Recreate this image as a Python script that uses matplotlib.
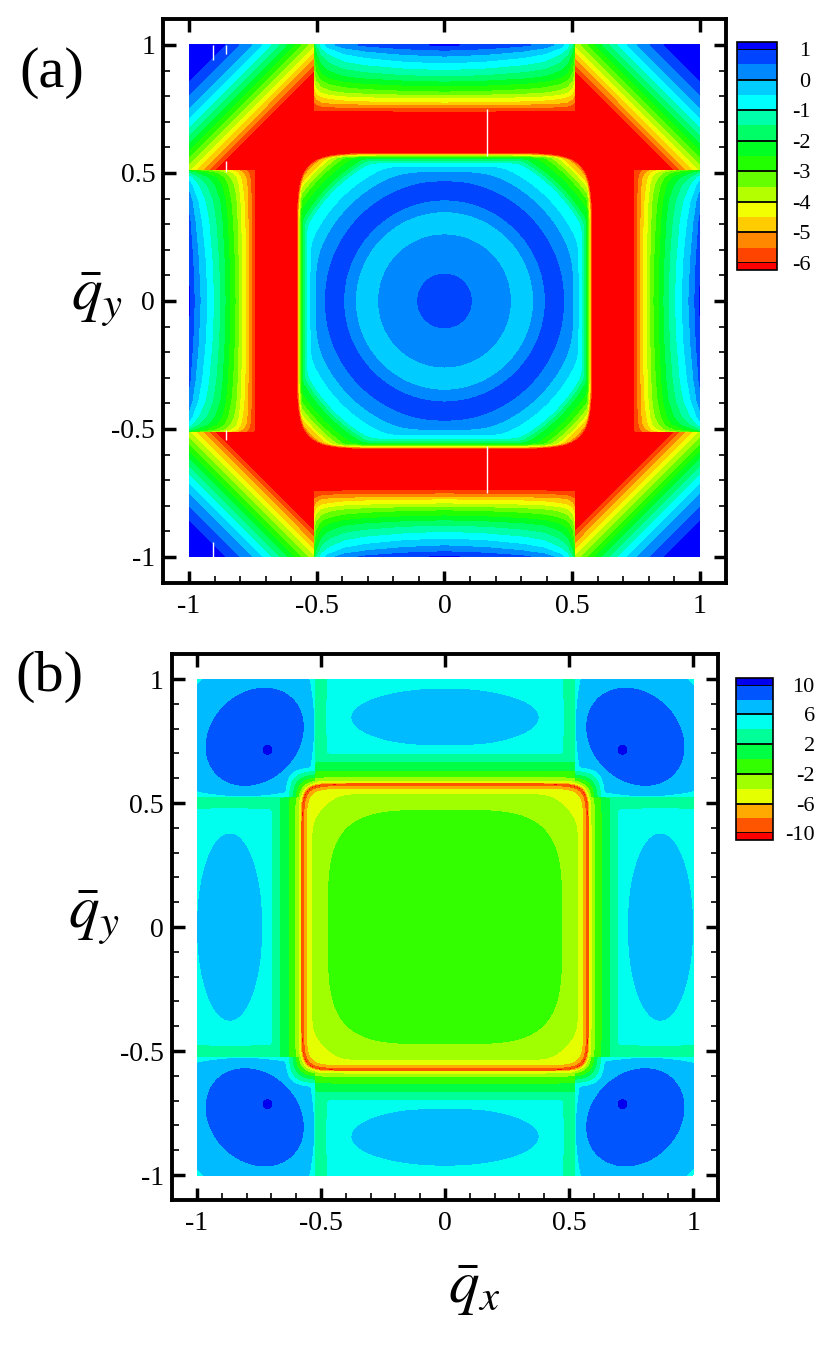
import numpy as np
import matplotlib
matplotlib.use('Agg')
import matplotlib.pyplot as plt

plt.rcParams['font.family'] = ['Liberation Serif', 'DejaVu Serif']
plt.rcParams['mathtext.fontset'] = 'stix'
plt.rcParams['axes.unicode_minus'] = False

# ---------------- panel (a) : values ----------------
a_levels = [-6, -5.5, -5, -4.5, -4, -3.5, -3, -2.5, -2, -1.5, -1, -0.5, 0, 0.5, 1]
a_colors = ['#ff0000', '#ff4400', '#ff8800', '#ffcc00', '#f2ff00', '#b4ff00',
            '#66ff00', '#22ff00', '#00ff22', '#00ff66', '#00ffaa', '#00ffff',
            '#00ccff', '#0088ff', '#0044ff', '#0000ff']
a_cbar_ticks = [1, 0, -1, -2, -3, -4, -5, -6]

# central square: rings against the plain radius ...
a_ring_r = [0, 0.105, 0.18, 0.258, 0.30, 0.349, 0.395, 0.42, 0.44, 0.467, 0.523,
            0.566, 0.608, 0.622, 0.636, 0.66, 0.68, 0.695, 0.71, 0.72, 0.735,
            0.745, 0.757, 0.80]
a_ring_v = [0.65, 0.5, 0.2, 0.0, -0.25, 0.0, 0.5, 0.98, 1.0, 0.5, 0.0,
            -0.5, -1.0, -1.5, -2.0, -2.5, -3.0, -3.5, -4.0, -4.5, -5.0,
            -5.5, -6.0, -8.0]
# ... and the drop to red at its squarish rim
a_edge_rho = [0.44, 0.47, 0.50, 0.52, 0.535, 0.5435, 0.551, 0.5555, 0.5595,
              0.563, 0.566, 0.5685, 0.571, 0.573, 0.575, 0.60]
a_edge_v = [1.7, 0.6, 0.1, -0.4, -0.9, -1.4, -1.9, -2.4, -2.9,
            -3.4, -3.9, -4.4, -4.9, -5.4, -5.9, -8.0]
# strips outside |q|=0.5 : value against depth 1-|q|
a_strip_s = [0, 0.02, 0.043, 0.07, 0.096, 0.121, 0.141, 0.16, 0.18, 0.194,
             0.207, 0.223, 0.233, 0.246, 0.258, 0.30]
a_strip_v = [1.05, 0.5, 0, -0.5, -1, -1.5, -2, -2.5, -3, -3.5,
             -4, -4.5, -5, -5.5, -6, -8]
# drop next to the zone line, and how it fades with depth
a_lat_t = [0, 0.01, 0.03, 0.06, 0.12, 0.2, 0.35, 0.5]
a_lat_v = [-3.55, -2.55, -1.75, -1.25, -0.75, -0.45, -0.15, 0]
a_lat_s = [0, 0.1, 0.18, 0.22, 0.26]
a_lat_k = [1, 0.75, 0.5, 0.3, 0]
# corners: value against 2-|qx|-|qy|
a_corner_w = [0, 0.14, 0.195, 0.245, 0.285, 0.318, 0.35, 0.38, 0.408, 0.436,
              0.463, 0.49, 0.515, 0.54, 0.565, 0.59, 0.66]
a_corner_v = [1.6, 1.0, 0.5, 0, -0.5, -1, -1.5, -2, -2.5, -3,
              -3.5, -4, -4.5, -5, -5.5, -6, -8]
# white lines left in the original plot
a_glitch_x = [0.165, 0.165, -0.905, -0.857, -0.857, -0.905, -0.857]
a_glitch_y0 = [0.565, -0.565, 0.94, 0.965, 0.505, -0.94, -0.505]
a_glitch_y1 = [0.75, -0.75, 1.0, 1.0, 0.545, -1.0, -0.545]

# ---------------- panel (b) ----------------
b_levels = [-10, -8, -6, -4, -2, 0, 2, 4, 6, 8, 10]
b_colors = ['#ff0000', '#ff5500', '#ffaa00', '#e6ff00', '#a0ff00', '#33ff00',
            '#00ff44', '#00ff99', '#00ffee', '#00bbff', '#0055ff', '#0000ee']
b_cbar_ticks = [10, 6, 2, -2, -6, -10]

b_core_rho = [0, 0.25, 0.38, 0.44, 0.465, 0.50, 0.55, 0.62, 0.70]
b_core_v = [-0.5, -0.7, -1.2, -1.65, -1.9, -2.5, -3.5, -4.9, -6.9]
b_edge_rho = [0.45, 0.50, 0.535, 0.556, 0.567, 0.573, 0.577]
b_edge_v = [0.0, -2.9, -4.0, -6.0, -8.0, -10.0, -10.5]
# climb out of the singular line, strips and corners
b_rise_e = [0, 0.004, 0.009, 0.029, 0.056, 0.09, 0.123, 0.155, 0.177, 0.25]
b_rise_v = [-10.5, -8, -5, -2, 0, 2, 4, 6.0, 7.0, 9.5]
b_crise_e = [0, 0.004, 0.009, 0.02, 0.04, 0.06, 0.085, 0.12]
b_crise_v = [-10.5, -8, -5, -2, 1.5, 4.5, 8, 14]
# oval in each strip, drop beside the zone line
b_strip_q = [0, 0.25, 0.5, 0.75, 1.0, 1.2, 1.5, 1.8]
b_strip_v = [2.1, 2.0, 1.7, 1.2, 0.5, 0.2, 0.05, 0]
b_lat_x = [0, 0.38, 0.43, 0.47, 0.50, 0.525]
b_lat_v = [0, 0, 0.5, 1.4, 2.4, 3.6]
# corner oval, its small peak and edge drop
b_blob_q = [0, 0.5, 1.0, 1.15, 1.3, 1.5, 1.7, 1.85, 2.5]
b_blob_v = [2.95, 2.8, 2.4, 2.0, 1.5, 0.9, 0.5, 0.3, 0.1]
b_spot_r = [0, 0.01, 0.02, 0.035, 0.05]
b_spot_v = [2.0, 1.85, 1.5, 0.6, 0]
b_clat_d = [0, 0.02, 0.045]
b_clat_v = [1.6, 0.7, 0]


def soft_min(p, q, k):
    # rounded minimum, keeps the joins between two profiles smooth
    return -k * np.logaddexp(-p / k, -q / k)


def field_a(X, Y):
    ax_, ay_ = np.abs(X), np.abs(Y)
    cut = 0.51
    r = np.hypot(X, Y)
    rho = (ax_**8 + ay_**8) ** (1 / 8)
    inner = soft_min(np.interp(r, a_ring_r, a_ring_v),
                     np.interp(rho, a_edge_rho, a_edge_v), 0.15)

    def strip(depth, lat):
        s = 1 - depth
        return (np.interp(s, a_strip_s, a_strip_v)
                + np.interp(cut - lat, a_lat_t, a_lat_v) * np.interp(s, a_lat_s, a_lat_k))

    top = strip(ay_, ax_)
    side = strip(ax_, ay_)
    corner = np.interp(2 - ax_ - ay_, a_corner_w, a_corner_v)
    outer = np.where(ax_ < cut, np.where(ay_ < cut, -8.0, top),
                     np.where(ay_ < cut, side, corner))
    return np.maximum(inner, outer)


def field_b(X, Y):
    ax_, ay_ = np.abs(X), np.abs(Y)
    cut = 0.525
    rho4 = (ax_**4 + ay_**4) ** 0.25
    rho16 = (ax_**16 + ay_**16) ** (1 / 16)
    inner = soft_min(np.interp(rho4, b_core_rho, b_core_v),
                     np.interp(rho16, b_edge_rho, b_edge_v), 0.2)
    e = rho16 - 0.577

    def strip(depth, lat, c, h):
        q = np.hypot(lat / 0.375, (depth - c) / h)
        v = 5.5 + np.interp(q, b_strip_q, b_strip_v) - np.interp(lat, b_lat_x, b_lat_v)
        return soft_min(v, np.interp(e, b_rise_e, b_rise_v), 0.2)

    top = strip(ay_, ax_, 0.845, 0.115)
    side = strip(ax_, ay_, 0.868, 0.13)
    u = (ax_ + ay_) / np.sqrt(2)
    w = (ax_ - ay_) / np.sqrt(2)
    qc = np.hypot((u - 1.085) / 0.175, w / 0.215)
    corner = (5.6 + np.interp(qc, b_blob_q, b_blob_v)
              + np.interp(np.hypot(ax_ - 0.715, ay_ - 0.714), b_spot_r, b_spot_v)
              - np.interp(ax_ - cut, b_clat_d, b_clat_v)
              - np.interp(ay_ - cut, b_clat_d, b_clat_v))
    corner = soft_min(corner, np.interp(e, b_crise_e, b_crise_v), 0.25)
    outer = np.where(ax_ < cut, top, np.where(ay_ < cut, side, corner))
    return np.where(e < 0, inner, outer)


q = np.linspace(-1, 1, 1001)
QX, QY = np.meshgrid(q, q)

fig = plt.figure(figsize=(8.32, 13.46), dpi=100)
ax_a = fig.add_axes([0.1965, 0.5672, 0.6755, 0.4184])
ax_b = fig.add_axes([0.2070, 0.1086, 0.6558, 0.4053])
cax_a = fig.add_axes([0.8858, 0.7994, 0.0481, 0.1694])
cax_b = fig.add_axes([0.8846, 0.3759, 0.0445, 0.1204])

cs_a = ax_a.contourf(QX, QY, field_a(QX, QY), levels=a_levels, colors=a_colors, extend='both')
cs_b = ax_b.contourf(QX, QY, field_b(QX, QY), levels=b_levels, colors=b_colors, extend='both')
ax_a.vlines(a_glitch_x, a_glitch_y0, a_glitch_y1, colors='white', lw=1)

ticks = [-1, -0.5, 0, 0.5, 1]
tick_txt = ['-1', '-0.5', '0', '0.5', '1']
for ax in (ax_a, ax_b):
    ax.set_xlim(-1.1, 1.1)
    ax.set_ylim(-1.1, 1.1)
    ax.set_xticks(ticks)
    ax.set_xticklabels(tick_txt)
    ax.set_yticks(ticks)
    ax.set_yticklabels(tick_txt)
    ax.set_xticks(np.arange(-1, 1.01, 0.1), minor=True)
    ax.set_yticks(np.arange(-1, 1.01, 0.1), minor=True)
    ax.tick_params(which='both', direction='in', top=True, right=True, labelsize=20)
    ax.tick_params(which='major', length=9, width=2.5)
    ax.tick_params(which='minor', length=5, width=1.2, top=False)
    ax.tick_params(axis='x', pad=8)
    ax.tick_params(axis='y', pad=6)
    for sp in ax.spines.values():
        sp.set_linewidth(2.8)

for cs, cax, tks, frac in ((cs_a, cax_a, a_cbar_ticks, 0.033),
                           (cs_b, cax_b, b_cbar_ticks, 0.045)):
    cb = fig.colorbar(cs, cax=cax, ticks=tks, extendrect=True, extendfrac=frac)
    cb.outline.set_linewidth(1.2)
    cb.ax.tick_params(length=0, labelsize=16, pad=24 if cs is cs_a else 30)
    cb.ax.set_yticklabels([str(t) for t in tks])
    for lbl in cb.ax.get_yticklabels():
        lbl.set_horizontalalignment('right')
    for t in tks:
        cb.ax.axhline(t, color='k', lw=1.3)

fig.text(0.0625, 0.9458, '(a)', fontsize=42, ha='center', va='center')
fig.text(0.0600, 0.4970, '(b)', fontsize=42, ha='center', va='center')
fig.text(0.1166, 0.7771, r'$\bar{q}_y$', fontsize=44, ha='center', va='center')
fig.text(0.1130, 0.3180, r'$\bar{q}_y$', fontsize=44, ha='center', va='center')
fig.text(0.5700, 0.0416, r'$\bar{q}_x$', fontsize=44, ha='center', va='center')

fig.savefig('out.png', dpi=100)
